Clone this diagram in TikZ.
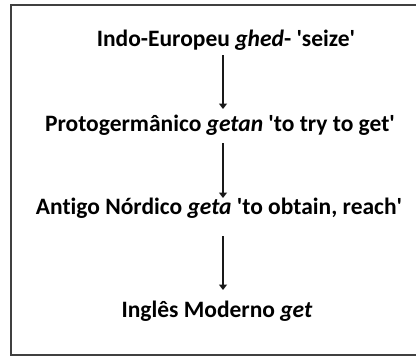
\documentclass[tikz,border=0pt]{standalone}
\usepackage{fontspec}
\setmainfont{Carlito}[Ligatures={NoCommon}]
\usetikzlibrary{arrows.meta}
\newcommand{\sq}{\textquotesingle}
\begin{document}
\begin{tikzpicture}[x=1pt,y=-1pt,
  lab/.style={font=\fontsize{23.5}{26}\selectfont\bfseries, text=black, inner sep=0pt, anchor=center},
  conn/.style={-{Triangle[length=5.5pt,width=8pt]}, line width=1.7pt, color=black!90},
  frame/.style={line width=2pt, color=black!75}]
\useasboundingbox (0,0) rectangle (416,356);
\begin{scope}
\clip (0,0) rectangle (416,356);
\draw[frame] (430,4.5) -- (10.5,4.5) -- (10.5,354.5) -- (430,354.5);
\end{scope}
\node[lab] (a) at (226,40) {Indo-Europeu \textit{ghed}- \sq seize\sq};
\node[lab] (b) at (220,125) {Protogermânico \textit{getan} \sq to try to get\sq};
\node[lab] (c) at (219,208) {Antigo Nórdico \textit{geta} \sq to obtain, reach\sq};
\node[lab] (d) at (217,311) {Inglês Moderno \textit{get}};
\coordinate (a1) at (223,55);
\coordinate (b0) at (223,109);
\coordinate (b1) at (223,143);
\coordinate (c0) at (223,198);
\coordinate (c1) at (223,236);
\coordinate (d0) at (223,290);
\draw[conn] (a1) -- (b0);
\draw[conn] (b1) -- (c0);
\draw[conn] (c1) -- (d0);
\end{tikzpicture}
\end{document}
